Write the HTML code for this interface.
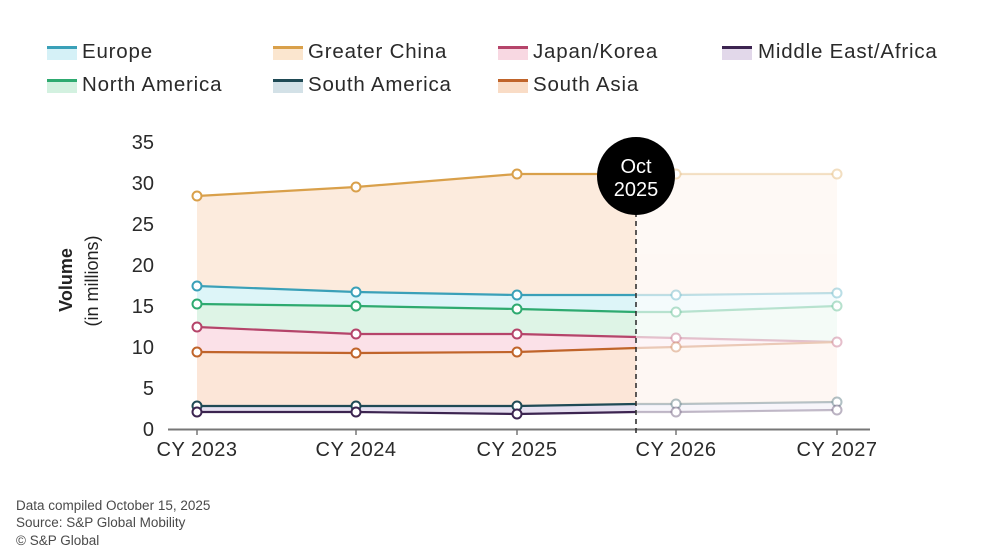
<!DOCTYPE html>
<html><head><meta charset="utf-8">
<style>
html,body{margin:0;padding:0;background:#fff;}
body{width:995px;height:560px;overflow:hidden;position:relative;font-family:"Liberation Sans",sans-serif;color:#222;}
.leg{position:absolute;font-size:20.5px;letter-spacing:0.8px;line-height:22px;color:#2a2a2a;}
.sw{position:absolute;width:30px;height:11px;}
.foot{position:absolute;left:16px;font-size:13.5px;color:#4a4a4a;line-height:18px;}
</style></head><body>

<!-- legend -->
<div class="sw" style="left:47px;top:46px;border-top:3px solid #3aa0b8;background:#d5f1f7;"></div>
<div class="leg" style="left:82px;top:41px;">Europe</div>
<div class="sw" style="left:273px;top:46px;border-top:3px solid #d9a04a;background:#fbe6cf;"></div>
<div class="leg" style="left:308px;top:41px;">Greater China</div>
<div class="sw" style="left:498px;top:46px;border-top:3px solid #b5446a;background:#f8d8e2;"></div>
<div class="leg" style="left:533px;top:41px;">Japan/Korea</div>
<div class="sw" style="left:722px;top:46px;border-top:3px solid #3c2450;background:#e2d8ea;"></div>
<div class="leg" style="left:758px;top:41px;">Middle East/Africa</div>

<div class="sw" style="left:47px;top:79px;border-top:3px solid #2eaa70;background:#d3f1e0;"></div>
<div class="leg" style="left:82px;top:74px;">North America</div>
<div class="sw" style="left:273px;top:79px;border-top:3px solid #1f4a55;background:#d3e1e7;"></div>
<div class="leg" style="left:308px;top:74px;">South America</div>
<div class="sw" style="left:498px;top:79px;border-top:3px solid #c0642a;background:#f9dcc6;"></div>
<div class="leg" style="left:533px;top:74px;">South Asia</div>

<svg width="995" height="560" style="position:absolute;left:0;top:0;" xmlns="http://www.w3.org/2000/svg">
  <!-- past fills -->
  <g>
    <polygon fill="#fcebdd" points="197,196 356,187 517,174 636,174 636,429 197,429"/>
    <polygon fill="#ddf5f8" points="197,286 356,292 517,295 636,295 636,429 197,429"/>
    <polygon fill="#def4e6" points="197,304 356,306 517,309 636,312 636,429 197,429"/>
    <polygon fill="#fbe1e8" points="197,327 356,334 517,334 636,337 636,429 197,429"/>
    <polygon fill="#fce6d8" points="197,352 356,353 517,352 636,348 636,429 197,429"/>
    <polygon fill="#e6e0f0" points="197,406 356,406 517,406 636,404 636,429 197,429"/>
    <polygon fill="#ffffff" points="197,412 356,412 517,414 636,412 636,429 197,429"/>
  </g>
  <!-- future fills -->
  <g opacity="0.3">
    <polygon fill="#fcebdd" points="636,174 676,174 837,174 837,429 636,429"/>
    <polygon fill="#ddf5f8" points="636,295 676,295 837,293 837,429 636,429"/>
    <polygon fill="#def4e6" points="636,312 676,312 837,306 837,429 636,429"/>
    <polygon fill="#fbe1e8" points="636,337 676,338 837,342 837,429 636,429"/>
    <polygon fill="#fce6d8" points="636,348 676,347 837,342 837,429 636,429"/>
    <polygon fill="#e6e0f0" points="636,404 676,404 837,402 837,429 636,429"/>
    <polygon fill="#ffffff" points="636,412 676,412 837,410 837,429 636,429"/>
  </g>

  <!-- past lines -->
  <g fill="none" stroke-width="2.2" stroke-linejoin="round">
    <polyline stroke="#d9a04a" points="197,196 356,187 517,174 636,174"/>
    <polyline stroke="#3aa0b8" points="197,286 356,292 517,295 636,295"/>
    <polyline stroke="#2eaa70" points="197,304 356,306 517,309 636,312"/>
    <polyline stroke="#b5446a" points="197,327 356,334 517,334 636,337"/>
    <polyline stroke="#c0642a" points="197,352 356,353 517,352 636,348"/>
    <polyline stroke="#1f4a55" points="197,406 356,406 517,406 636,404"/>
    <polyline stroke="#3c2450" points="197,412 356,412 517,414 636,412"/>
  </g>
  <!-- future lines -->
  <g fill="none" stroke-width="2.2" opacity="0.3">
    <polyline stroke="#d9a04a" points="636,174 676,174 837,174"/>
    <polyline stroke="#3aa0b8" points="636,295 676,295 837,293"/>
    <polyline stroke="#2eaa70" points="636,312 676,312 837,306"/>
    <polyline stroke="#b5446a" points="636,337 676,338 837,342"/>
    <polyline stroke="#c0642a" points="636,348 676,347 837,342"/>
    <polyline stroke="#1f4a55" points="636,404 676,404 837,402"/>
    <polyline stroke="#3c2450" points="636,412 676,412 837,410"/>
  </g>

  <!-- past markers -->
  <g fill="#fff" stroke-width="2">
    <g stroke="#d9a04a"><circle cx="197" cy="196" r="4.5"/><circle cx="356" cy="187" r="4.5"/><circle cx="517" cy="174" r="4.5"/></g>
    <g stroke="#3aa0b8"><circle cx="197" cy="286" r="4.5"/><circle cx="356" cy="292" r="4.5"/><circle cx="517" cy="295" r="4.5"/></g>
    <g stroke="#2eaa70"><circle cx="197" cy="304" r="4.5"/><circle cx="356" cy="306" r="4.5"/><circle cx="517" cy="309" r="4.5"/></g>
    <g stroke="#b5446a"><circle cx="197" cy="327" r="4.5"/><circle cx="356" cy="334" r="4.5"/><circle cx="517" cy="334" r="4.5"/></g>
    <g stroke="#c0642a"><circle cx="197" cy="352" r="4.5"/><circle cx="356" cy="353" r="4.5"/><circle cx="517" cy="352" r="4.5"/></g>
    <g stroke="#1f4a55"><circle cx="197" cy="406" r="4.5"/><circle cx="356" cy="406" r="4.5"/><circle cx="517" cy="406" r="4.5"/></g>
    <g stroke="#3c2450"><circle cx="197" cy="412" r="4.5"/><circle cx="356" cy="412" r="4.5"/><circle cx="517" cy="414" r="4.5"/></g>
  </g>
  <!-- future markers -->
  <g fill="#fff" stroke-width="2" stroke-opacity="0.35">
    <g stroke="#d9a04a"><circle cx="676" cy="174" r="4.5"/><circle cx="837" cy="174" r="4.5"/></g>
    <g stroke="#3aa0b8"><circle cx="676" cy="295" r="4.5"/><circle cx="837" cy="293" r="4.5"/></g>
    <g stroke="#2eaa70"><circle cx="676" cy="312" r="4.5"/><circle cx="837" cy="306" r="4.5"/></g>
    <g stroke="#b5446a"><circle cx="676" cy="338" r="4.5"/><circle cx="837" cy="342" r="4.5"/></g>
    <g stroke="#c0642a"><circle cx="676" cy="347" r="4.5"/></g>
    <g stroke="#1f4a55"><circle cx="676" cy="404" r="4.5"/><circle cx="837" cy="402" r="4.5"/></g>
    <g stroke="#3c2450"><circle cx="676" cy="412" r="4.5"/><circle cx="837" cy="410" r="4.5"/></g>
  </g>

  <!-- axis -->
  <line x1="168" y1="429.5" x2="870" y2="429.5" stroke="#777" stroke-width="2"/>
  <g stroke="#777" stroke-width="1.5">
    <line x1="197" y1="429" x2="197" y2="435"/>
    <line x1="356" y1="429" x2="356" y2="435"/>
    <line x1="517" y1="429" x2="517" y2="435"/>
    <line x1="676" y1="429" x2="676" y2="435"/>
    <line x1="837" y1="429" x2="837" y2="435"/>
  </g>

  <!-- oct dashed -->
  <line x1="636" y1="212" x2="636" y2="434" stroke="#333" stroke-width="1.6" stroke-dasharray="5,4"/>
  <circle cx="636" cy="176" r="39" fill="#000"/>
  <text x="636" y="173" fill="#fff" font-family="Liberation Sans, sans-serif" font-size="20" text-anchor="middle">Oct</text>
  <text x="636" y="196" fill="#fff" font-family="Liberation Sans, sans-serif" font-size="20" text-anchor="middle">2025</text>

  <!-- y tick labels -->
  <g font-family="Liberation Sans, sans-serif" font-size="20" fill="#2a2a2a" text-anchor="end">
    <text x="154" y="149">35</text>
    <text x="154" y="190">30</text>
    <text x="154" y="231">25</text>
    <text x="154" y="272">20</text>
    <text x="154" y="313">15</text>
    <text x="154" y="354">10</text>
    <text x="154" y="395">5</text>
    <text x="154" y="436">0</text>
  </g>
  <!-- x labels -->
  <g font-family="Liberation Sans, sans-serif" font-size="20" fill="#2a2a2a" text-anchor="middle" letter-spacing="0.5">
    <text x="197" y="456">CY 2023</text>
    <text x="356" y="456">CY 2024</text>
    <text x="517" y="456">CY 2025</text>
    <text x="676" y="456">CY 2026</text>
    <text x="837" y="456">CY 2027</text>
  </g>
  <!-- y axis title -->
  <text transform="translate(72,280) rotate(-90)" font-family="Liberation Sans, sans-serif" font-size="18" font-weight="bold" fill="#222" text-anchor="middle">Volume</text>
  <text transform="translate(98,281) rotate(-90)" font-family="Liberation Sans, sans-serif" font-size="18" fill="#222" text-anchor="middle">(in millions)</text>
</svg>

<div class="foot" style="top:497px;">Data compiled October 15, 2025</div>
<div class="foot" style="top:514px;">Source: S&amp;P Global Mobility</div>
<div class="foot" style="top:532px;">© S&amp;P Global</div>
</body></html>
